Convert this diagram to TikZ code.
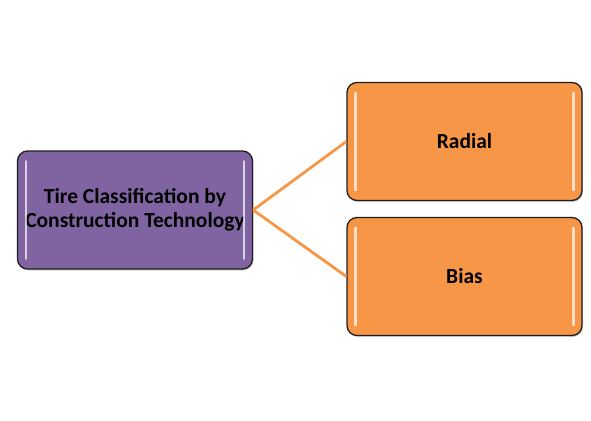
\documentclass[tikz,border=0pt]{standalone}
\usepackage{fontspec}
\setmainfont{Carlito}
\usetikzlibrary{shadows}
\definecolor{purp}{HTML}{8064A2}
\definecolor{orng}{HTML}{F79646}
\definecolor{edge}{HTML}{1E1E1E}
\begin{document}
\begin{tikzpicture}[x=1pt,y=-1pt,
  box/.style={draw=edge, line width=1.3pt, rounded corners=10pt, minimum width=235pt, minimum height=118pt,
    font=\bfseries\fontsize{21.5}{24}\selectfont, align=center, text=black, inner sep=0pt,
    drop shadow={shadow xshift=1pt, shadow yshift=-1.5pt, opacity=0.35}},
  mainbox/.style={box, fill=purp},
  subbox/.style={box, fill=orng},
  conn/.style={draw=orng, line width=2.8pt},
  gloss/.style={draw=white, line width=2.6pt, line cap=round, opacity=0.7}]
\useasboundingbox (0,0) rectangle (591,420);
\node[mainbox] (L) at (135,210) {Tire Classification by\\Construction Technology};
\node[subbox] (R) at (464.5,141.5) {Radial};
\node[subbox] (B) at (464.5,276.5) {Bias};
\draw[conn] (L.east) -- (R.west);
\draw[conn] (L.east) -- (B.west);
\foreach \n in {L,R,B}{
  \draw[gloss] ([xshift=9pt,yshift=-11pt]\n.north west) -- ([xshift=9pt,yshift=11pt]\n.south west);
  \draw[gloss] ([xshift=-9pt,yshift=-11pt]\n.north east) -- ([xshift=-9pt,yshift=11pt]\n.south east);
}
\end{tikzpicture}
\end{document}
